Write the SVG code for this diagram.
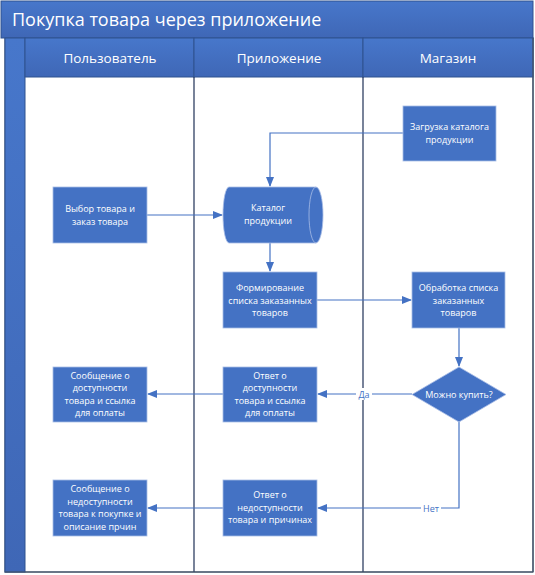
<svg xmlns="http://www.w3.org/2000/svg" width="535" height="575" viewBox="0 0 535 575">
<defs>
<linearGradient id="hg" x1="0" y1="0" x2="0" y2="1">
<stop offset="0" stop-color="#4777CB"/>
<stop offset="1" stop-color="#3F67B6"/>
</linearGradient>
<marker id="ah" markerWidth="10" markerHeight="8" refX="9" refY="4" orient="auto" markerUnits="userSpaceOnUse">
<path d="M0,0 L10,4 L0,8 Z" fill="#4472C4"/>
</marker>
<style>
.bar{fill:url(#hg);stroke:#2F528F;stroke-width:1}
.lane{fill:none;stroke:#1F3056;stroke-width:1.2}
.box{fill:#4472C4;stroke:#A8BDE6;stroke-width:0.8}
.t{font-family:"Open Sans","Noto Sans",sans-serif;font-size:9px;fill:#FFFFFF;text-anchor:middle}
.h{font-family:"Open Sans","Noto Sans",sans-serif;font-size:13.5px;fill:#FFFFFF;text-anchor:middle}
.ttl{font-family:"Open Sans","Noto Sans",sans-serif;font-size:18px;fill:#FFFFFF}
.c{fill:none;stroke:#4472C4;stroke-width:1.2;marker-end:url(#ah)}
.lbl{font-family:"Open Sans","Noto Sans",sans-serif;font-size:9px;fill:#4472C4;text-anchor:middle}
</style>
</defs>
<rect x="0" y="0" width="535" height="575" fill="#FFFFFF"/>
<g id="pool">
<rect x="5" y="38" width="528" height="534" fill="#FFFFFF" stroke="#44546A" stroke-width="1.2"/>
<rect class="bar" x="1" y="1" width="532" height="37"/>
<text class="ttl" x="12" y="26">Покупка товара через приложение</text>
<rect class="bar" x="5" y="38" width="20" height="534"/>
<rect class="bar" x="25" y="38" width="169" height="39"/>
<rect class="bar" x="194" y="38" width="169" height="39"/>
<rect class="bar" x="363" y="38" width="170" height="39"/>
<text class="h" x="110" y="63">Пользователь</text>
<text class="h" x="279" y="63">Приложение</text>
<text class="h" x="448" y="63">Магазин</text>
<line class="lane" x1="194" y1="77" x2="194" y2="572"/>
<line class="lane" x1="363" y1="77" x2="363" y2="572"/>
<line x1="533" y1="38" x2="533" y2="572" stroke="#44546A" stroke-width="1.2"/>
<line x1="5" y1="572" x2="533" y2="572" stroke="#44546A" stroke-width="1.2"/>
</g>
<g id="connectors">
<path class="c" d="M403,133 H270 V186"/>
<path class="c" d="M147,215 H222"/>
<path class="c" d="M270,243 V271"/>
<path class="c" d="M317,300 H411"/>
<path class="c" d="M459,328 V366"/>
<path class="c" d="M412,394 H318"/>
<path class="c" d="M223,394 H148"/>
<path class="c" d="M459,422 V508 H318"/>
<path class="c" d="M223,508 H148"/>
<rect x="356" y="388" width="16" height="12" fill="#FFFFFF"/>
<text class="lbl" x="364" y="397.5">Да</text>
<rect x="421" y="502" width="20" height="12" fill="#FFFFFF"/>
<text class="lbl" x="431" y="511.5">Нет</text>
</g>
<g id="n-load">
<rect class="box" x="403" y="106" width="93" height="55"/>
<text class="t" x="449.5" y="130">Загрузка каталога</text>
<text class="t" x="449.5" y="143">продукции</text>
</g>
<g id="n-catalog">
<path class="box" d="M229,187 H316 A7,28 0 0 1 316,243 H229 A6,28 0 0 1 229,187 Z"/>
<path d="M316,187 A7,28 0 0 0 316,243" fill="none" stroke="#A8BDE6" stroke-width="0.8"/>
<text class="t" x="268" y="211">Каталог</text>
<text class="t" x="268" y="224">продукции</text>
</g>
<g id="n-choose">
<rect class="box" x="53" y="187" width="94" height="56"/>
<text class="t" x="100" y="212">Выбор товара и</text>
<text class="t" x="100" y="225">заказ товара</text>
</g>
<g id="n-form">
<rect class="box" x="223" y="272" width="94" height="56"/>
<text class="t" x="270" y="291">Формирование</text>
<text class="t" x="270" y="303.5">списка заказанных</text>
<text class="t" x="270" y="316">товаров</text>
</g>
<g id="n-process">
<rect class="box" x="412" y="272" width="93" height="56"/>
<text class="t" x="458.5" y="291">Обработка списка</text>
<text class="t" x="458.5" y="303.5">заказанных</text>
<text class="t" x="458.5" y="316">товаров</text>
</g>
<g id="n-decision">
<path class="box" d="M459,367 L506,394.5 L459,422 L412,394.5 Z"/>
<text class="t" x="459" y="398">Можно купить?</text>
</g>
<g id="n-answer-yes">
<rect class="box" x="223" y="367" width="94" height="55"/>
<text class="t" x="270" y="378.5">Ответ о</text>
<text class="t" x="270" y="391">доступности</text>
<text class="t" x="270" y="403.5">товара и ссылка</text>
<text class="t" x="270" y="416">для оплаты</text>
</g>
<g id="n-msg-yes">
<rect class="box" x="53" y="367" width="94" height="55"/>
<text class="t" x="100" y="378.5">Сообщение о</text>
<text class="t" x="100" y="391">доступности</text>
<text class="t" x="100" y="403.5">товара и ссылка</text>
<text class="t" x="100" y="416">для оплаты</text>
</g>
<g id="n-answer-no">
<rect class="box" x="223" y="480" width="94" height="56"/>
<text class="t" x="270" y="498">Ответ о</text>
<text class="t" x="270" y="510.5">недоступности</text>
<text class="t" x="270" y="523">товара и причинах</text>
</g>
<g id="n-msg-no">
<rect class="box" x="53" y="480" width="94" height="56"/>
<text class="t" x="100" y="492">Сообщение о</text>
<text class="t" x="100" y="504.5">недоступности</text>
<text class="t" x="100" y="517">товара к покупке и</text>
<text class="t" x="100" y="529.5">описание прчин</text>
</g>
</svg>
